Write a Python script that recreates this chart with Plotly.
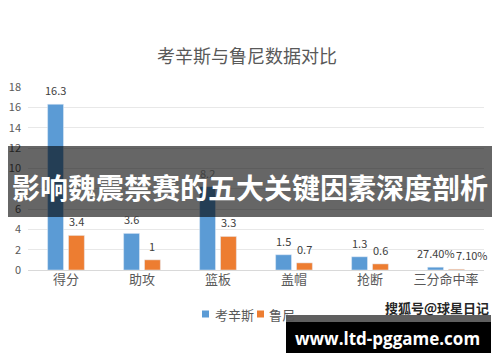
import plotly.graph_objects as go

categories = ["得分", "助攻", "篮板", "盖帽", "抢断", "三分命中率"]
cousins = [16.3, 3.6, 8.2, 1.5, 1.3, 0.274]
rooney = [3.4, 1.0, 3.3, 0.7, 0.6, 0.071]
cousins_labels = ["16.3", "3.6", "8.2", "1.5", "1.3", "27.40%"]
rooney_labels = ["3.4", "1", "3.3", "0.7", "0.6", "7.10%"]
series_names = ["考辛斯", "鲁尼"]
y_ticks = [0, 2, 4, 6, 8, 10, 12, 14, 16, 18]

BLUE = "#5B9BD5"
ORANGE = "#ED7D31"
GRAY = "#595959"
FONT = "Noto Sans CJK SC"

# the page body adds an 8px margin; figure is sized so the page does not overflow
OFF = 8
W, H = 500 - 2 * OFF, 362 - 2 * OFF
# plot area in page pixels: x 28..484, y 87..270
L, R, T, B = 28 - OFF, W - (484 - OFF), 87 - OFF, H - (270 - OFF)
PW, PH = W - L - R, H - T - B


def px(x):
    return (x - OFF - L) / PW


def py(y):
    return (H - B - (y - OFF)) / PH


def note(x, y, text, size, color, family=FONT, xanchor="center"):
    return dict(xref="paper", yref="paper", x=px(x), y=py(y), text=text, showarrow=False,
                xanchor=xanchor, yanchor="middle", font=dict(size=size, color=color, family=family))


xs = list(range(len(categories)))
fig = go.Figure()
fig.add_trace(go.Bar(x=xs, y=cousins, name=series_names[0], marker_color=BLUE))
fig.add_trace(go.Bar(x=xs, y=rooney, name=series_names[1], marker_color=ORANGE))

bargap, groupgap = 0.45, 0.24
off = (1 - bargap) / 4
ann = []
for i, (v, t) in enumerate(zip(cousins, cousins_labels)):
    ann.append(dict(x=i - off, y=v, text=t, showarrow=False, xanchor="center", yanchor="middle", yshift=14,
                    font=dict(size=11, color="#404040", family=FONT)))
for i, (v, t) in enumerate(zip(rooney, rooney_labels)):
    ann.append(dict(x=i + off, y=v, text=t, showarrow=False, xanchor="center", yanchor="middle", yshift=14,
                    xshift=16 if i == len(categories) - 1 else 0,
                    font=dict(size=11, color="#404040", family=FONT)))

ann.append(note(247, 55, "考辛斯与鲁尼数据对比", 18, GRAY))
ann.append(note(213, 314, series_names[0], 13, GRAY, xanchor="left"))
ann.append(note(267, 314, series_names[1], 13, GRAY, xanchor="left"))
ann.append(note(250, 187, "<b>影响魏震禁赛的五大关键因素深度剖析</b>", 28, "white"))
ann.append(note(437, 307, "<b>搜狐号@球星日记</b>", 13, "#262626"))
ann.append(note(387, 338, "<b>www.ltd-pggame.com</b>", 17, "white", family="Open Sans"))

shapes = [
    dict(type="rect", xref="paper", yref="paper", x0=px(202), x1=px(209), y0=py(317.5), y1=py(310.5),
         fillcolor=BLUE, line_width=0),
    dict(type="rect", xref="paper", yref="paper", x0=px(257), x1=px(264), y0=py(317.5), y1=py(310.5),
         fillcolor=ORANGE, line_width=0),
    dict(type="rect", xref="paper", yref="paper", x0=px(3), x1=px(497), y0=py(217), y1=py(146),
         fillcolor="rgba(0,0,0,0.6)", line_width=0, layer="above"),
    dict(type="rect", xref="paper", yref="paper", x0=px(286), x1=px(491), y0=py(322), y1=py(315),
         fillcolor="#5f5f5f", line_width=0, layer="above"),
    dict(type="rect", xref="paper", yref="paper", x0=px(286), x1=px(491), y0=py(353), y1=py(322),
         fillcolor="black", line_width=0, layer="above"),
]

fig.update_layout(
    width=W, height=H,
    margin=dict(l=L, r=R, t=T, b=B, autoexpand=False),
    paper_bgcolor="white", plot_bgcolor="white",
    barmode="group", bargap=bargap, bargroupgap=groupgap,
    font=dict(family=FONT, color=GRAY),
    xaxis=dict(tickmode="array", tickvals=xs, ticktext=categories, range=[-0.5, len(categories) - 0.5],
               showgrid=False, zeroline=False, showline=False, ticks="", automargin=False,
               tickfont=dict(size=13, color=GRAY, family=FONT)),
    yaxis=dict(range=[0, 18], tickvals=y_ticks, showgrid=True, gridcolor="#e8e8e8", gridwidth=1,
               zeroline=True, zerolinecolor="#d9d9d9", zerolinewidth=1, ticks="", automargin=False,
               ticklabelstandoff=6,
               tickfont=dict(size=11, color=GRAY, family=FONT)),
    showlegend=False,
    annotations=ann,
    shapes=shapes,
)

fig.write_html("out.html")
